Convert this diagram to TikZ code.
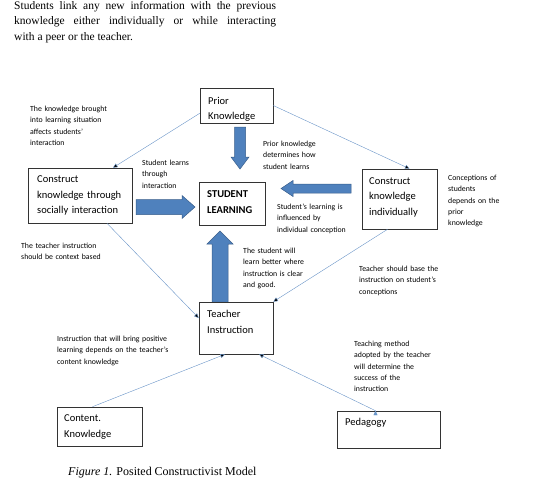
\documentclass[tikz,border=0pt]{standalone}
\usepackage{fontspec}
\setmainfont{Liberation Serif}
\newfontfamily\calibri{Carlito}
\usetikzlibrary{arrows.meta}

\definecolor{officeblue}{RGB}{79,129,189}
\definecolor{officeedge}{RGB}{56,93,138}

\tikzset{
	box/.style={draw=black!80, line width=0.6pt, inner sep=0pt},
	boxtext/.style={anchor=base west, inner sep=0pt, text width=100pt, align=left, font=\calibri\fontsize{10.5}{15.5}\selectfont},
	note/.style={anchor=base west, inner sep=0pt, text width=130pt, align=left, font=\calibri\fontsize{7.8}{11.3}\selectfont},
	link/.style={draw=officeblue!85, line width=0.4pt, -{Triangle[length=4.5pt,width=4pt]}},
	blockarrow/.style={fill=officeblue, draw=officeedge, line width=0.5pt}
}

\begin{document}
\begin{tikzpicture}[x=1pt, y=-1pt]
	\useasboundingbox (0,0) rectangle (556,483);
	
	\node [anchor=base west, inner sep=0pt, text width=262pt, align=justify, font=\fontsize{11.5}{15.5}\selectfont] (intro) at (14,9)
	{Students link any new information with the previous\linebreak knowledge either individually or while interacting\linebreak with a peer or the teacher.};
	
	% block arrows
	\draw [blockarrow] (234.5,127) -- (245.5,127) -- (245.5,157) -- (249,157) -- (240,169) -- (231,157) -- (234.5,157) -- cycle;
	\draw [blockarrow] (136,199.5) -- (182,199.5) -- (182,195.5) -- (195,207) -- (182,218.5) -- (182,214.5) -- (136,214.5) -- cycle;
	\draw [blockarrow] (351,184) -- (293,184) -- (293,180.5) -- (281,188.5) -- (293,196.5) -- (293,193) -- (351,193) -- cycle;
	\draw [blockarrow] (212,302) -- (212,244) -- (207,244) -- (220,231) -- (233,244) -- (228,244) -- (228,302) -- cycle;
	
	% boxes
	\node [box, minimum width=73pt, minimum height=35pt] (prior) at (236.5,105.5) {};
	\node [box, minimum width=66pt, minimum height=43pt] (student) at (232,203.5) {};
	\node [box, minimum width=104pt, minimum height=55pt] (social) at (80,195.5) {};
	\node [box, minimum width=75pt, minimum height=60pt] (indiv) at (399.5,199) {};
	\node [box, minimum width=74pt, minimum height=52pt] (teacher) at (236,328) {};
	\node [box, minimum width=85pt, minimum height=39pt] (content) at (99.5,426.5) {};
	\node [box, minimum width=103pt, minimum height=37pt] (pedagogy) at (388.5,429.5) {};
	
	\node [boxtext] (priortxt) at (208,104) {Prior\\Knowledge};
	\node [boxtext, font=\calibri\bfseries\fontsize{10.5}{16}\selectfont] (studenttxt) at (207,197) {STUDENT\\LEARNING};
	\node [boxtext] (socialtxt) at (37,182.5) {Construct\\knowledge through\\socially interaction};
	\node [boxtext] (indivtxt) at (369,184) {Construct\\knowledge\\individually};
	\node [boxtext] (teachertxt) at (207,317.5) {Teacher\\Instruction};
	\node [boxtext] (contenttxt) at (64,421.5) {Content.\\Knowledge};
	\node [boxtext] (pedagogytxt) at (345,425.5) {Pedagogy};
	
	% thin connectors
	\path [link]
	([yshift=10pt]prior.south west) edge ([xshift=33pt]social.north)
	(prior.east) edge ([xshift=10pt]indiv.north)
	([xshift=27pt]social.south) edge ([yshift=10pt]teacher.west)
	([xshift=-12pt]indiv.south) edge (teacher.north east)
	([xshift=-7pt]content.north) edge ([xshift=-11pt]teacher.south)
	([xshift=-13pt]pedagogy.north) edge ([xshift=23pt]teacher.south);
	
	% notes
	\node [note] (brought) at (30,111.5) {The knowledge brought\\into learning situation\\affects students’\\interaction};
	\node [note] (learnsint) at (142,165.5) {Student learns\\through\\interaction};
	\node [note] (determines) at (263,146.5) {Prior knowledge\\determines how\\student learns};
	\node [note] (influenced) at (277,209.5) {Student’s learning is\\influenced by\\individual conception};
	\node [note] (conceptions) at (448,180.5) {Conceptions of\\students\\depends on the\\prior\\knowledge};
	\node [note] (context) at (21,248.5) {The teacher instruction\\should be context based};
	\node [note] (better) at (243,253.5) {The student will\\learn better where\\instruction is clear\\and good.};
	\node [note] (basethe) at (359,271.5) {Teacher should base the\\instruction on student’s\\conceptions};
	\node [note] (positive) at (57,341.5) {Instruction that will bring positive\\learning depends on the teacher’s\\content knowledge};
	\node [note] (method) at (354,346.5) {Teaching method\\adopted by the teacher\\will determine the\\success of the\\instruction};
	
	\node [anchor=base west, inner sep=0pt, font=\fontsize{12}{14}\selectfont] (caption) at (68,475) {\textit{Figure 1.} Posited Constructivist Model};
\end{tikzpicture}
\end{document}
